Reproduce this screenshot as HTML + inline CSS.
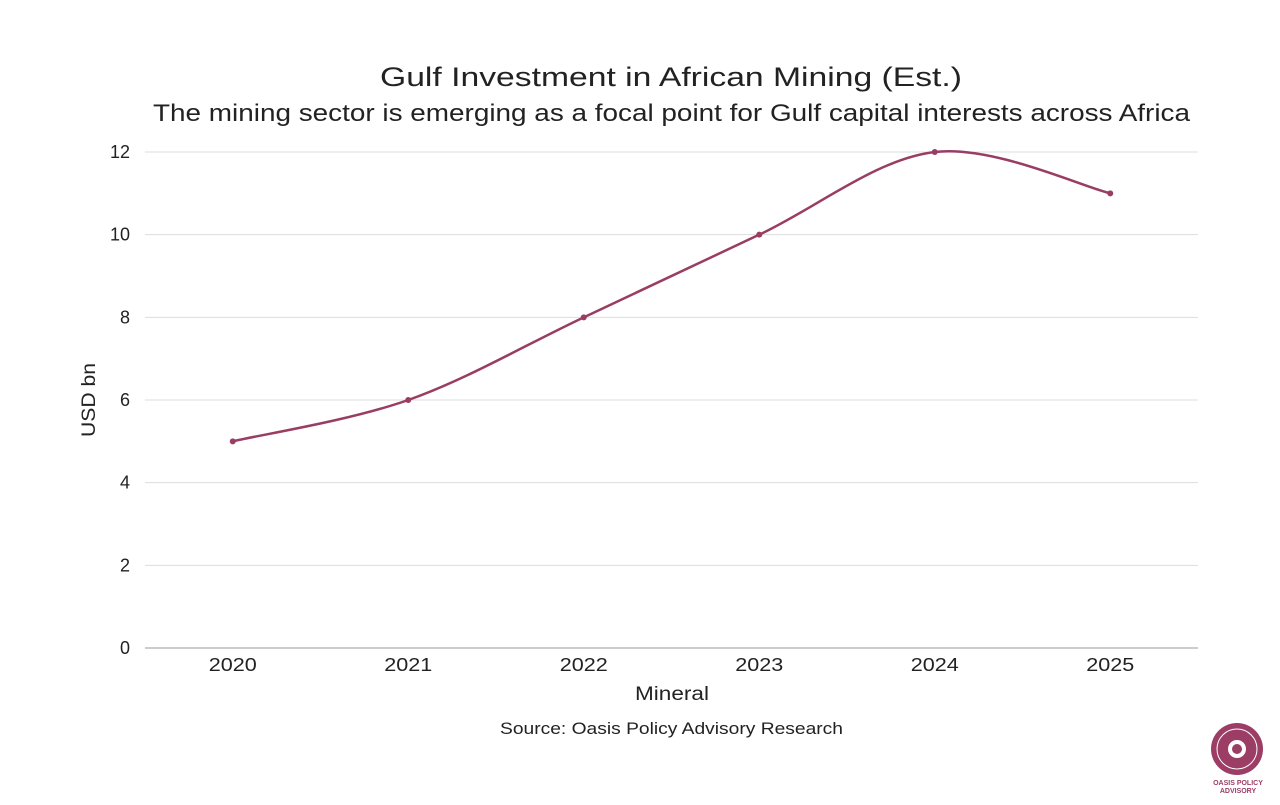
<!DOCTYPE html>
<html><head><meta charset="utf-8">
<style>
body{margin:0;background:#fff;font-family:"Liberation Sans",sans-serif;}
svg text{font-family:"Liberation Sans",sans-serif;fill:#222;}
</style></head>
<body>
<svg width="1280" height="800">
<text x="380" y="86" font-size="27" textLength="582" lengthAdjust="spacingAndGlyphs">Gulf Investment in African Mining (Est.)</text>
<text x="153" y="121" font-size="24" textLength="1037" lengthAdjust="spacingAndGlyphs">The mining sector is emerging as a focal point for Gulf capital interests across Africa</text>
<g id="grid"></g>
<g id="xt"></g>
<path id="line" fill="none" stroke="#993d63" stroke-width="2.5"/>
<g id="pts"></g>
<text transform="translate(95,400) rotate(-90)" font-size="19" text-anchor="middle" textLength="74" lengthAdjust="spacingAndGlyphs">USD bn</text>
<text x="635" y="700" font-size="19" textLength="74" lengthAdjust="spacingAndGlyphs">Mineral</text>
<text x="500" y="734" font-size="17" textLength="343" lengthAdjust="spacingAndGlyphs">Source: Oasis Policy Advisory Research</text>
<g>
<circle cx="1237" cy="749" r="26" fill="#9c3d66"/>
<circle cx="1237" cy="749" r="20" fill="none" stroke="#fff" stroke-width="1"/>
<circle cx="1237" cy="749" r="9" fill="#fff"/>
<circle cx="1237" cy="749" r="5" fill="#9c3d66"/>
<text x="1238" y="785" font-size="7" font-weight="bold" text-anchor="middle" style="fill:#9c3d66">OASIS POLICY</text>
<text x="1238" y="793" font-size="7" font-weight="bold" text-anchor="middle" style="fill:#9c3d66">ADVISORY</text>
</g>
</svg>
<script>
const categories=["2020","2021","2022","2023","2024","2025"];
const values=[5,6,8,10,12,11];
const yTicks=[0,2,4,6,8,10,12];
const L=145,R=1198,T=152,B=648,ymax=12;
const ns="http://www.w3.org/2000/svg";
const bw=(R-L)/categories.length;
const x=i=>L+bw*(i+0.5);
const y=v=>B-(v/ymax)*(B-T);
const grid=document.getElementById('grid');
yTicks.forEach(t=>{
 const l=document.createElementNS(ns,'line');
 l.setAttribute('x1',L);l.setAttribute('x2',R);l.setAttribute('y1',y(t));l.setAttribute('y2',y(t));
 l.setAttribute('stroke',t===0?'#999':'#ddd');l.setAttribute('stroke-width',1);
 
 
 grid.appendChild(l);
 const tx=document.createElementNS(ns,'text');
 tx.setAttribute('x',130);tx.setAttribute('y',y(t)+6);tx.setAttribute('font-size',18);tx.setAttribute('text-anchor','end');
 tx.textContent=t;
 
 
 grid.appendChild(tx);
});
const xt=document.getElementById('xt');
categories.forEach((c,i)=>{
 const tx=document.createElementNS(ns,'text');
 tx.setAttribute('x',x(i)-24);tx.setAttribute('y',671);tx.setAttribute('font-size',18);
 tx.setAttribute('textLength',48);tx.setAttribute('lengthAdjust','spacingAndGlyphs');
 tx.textContent=c;
 
 
 xt.appendChild(tx);
});
const P=values.map((v,i)=>[x(i),y(v)]);
let d=`M${P[0][0]},${P[0][1]}`;
for(let i=0;i<P.length-1;i++){
 const p0=P[Math.max(0,i-1)],p1=P[i],p2=P[i+1],p3=P[Math.min(P.length-1,i+2)];
 const c1=[p1[0]+(p2[0]-p0[0])/6,p1[1]+(p2[1]-p0[1])/6];
 const c2=[p2[0]-(p3[0]-p1[0])/6,p2[1]-(p3[1]-p1[1])/6];
 d+=` C${c1[0]},${c1[1]} ${c2[0]},${c2[1]} ${p2[0]},${p2[1]}`;
}
document.getElementById('line').setAttribute('d',d);
const pts=document.getElementById('pts');
P.forEach(p=>{
 const c=document.createElementNS(ns,'circle');
 c.setAttribute('cx',p[0]);c.setAttribute('cy',p[1]);c.setAttribute('r',3);c.setAttribute('fill','#993d63');
 
 
 pts.appendChild(c);
});
</script>
</body></html>
